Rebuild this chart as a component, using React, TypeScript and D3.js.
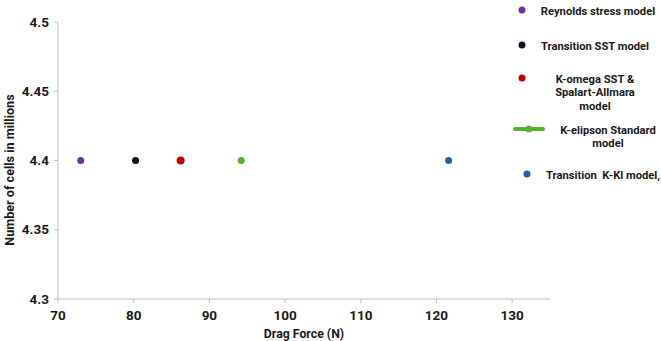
import React from "react";
import * as d3 from "d3";

const seriesNames = [
  "Reynolds stress model",
  "Transition SST model",
  "K-omega SST & Spalart-Allmara model",
  "K-elipson Standard model",
  "Transition  K-Kl model,",
];
const dragForce = [73.0, 80.25, 86.2, 94.2, 121.6];
const cells = [4.4, 4.4, 4.4, 4.4, 4.4];
const colors = ["#7030a0", "#0a1626", "#c00000", "#55b030", "#1f64a0"];
const xTicks = [70, 80, 90, 100, 110, 120, 130];
const yTicks = [4.3, 4.35, 4.4, 4.45, 4.5];

const W = 661;
const H = 341;
const FONT = "Roboto, 'DejaVu Sans', sans-serif";

export default function App() {
  const x = d3.scaleLinear().domain([70, 135]).range([58, 550]);
  const y = d3.scaleLinear().domain([4.3, 4.5]).range([299, 22]);
  const axisColor = "#bfbfbf";
  const textColor = "#1a1a1a";

  const legendLines: string[][] = [
    ["Reynolds stress model"],
    ["Transition SST model"],
    ["K-omega SST &", "Spalart-Allmara", "model"],
    ["K-elipson Standard", "model"],
    ["Transition  K-Kl model,"],
  ];
  const legendMarkerX = [522, 522, 522, 529, 527];
  const legendMarkerY = [10, 45, 78, 129, 174];
  const legendTextX = [598, 595, 595, 608, 546];
  const legendAnchor = ["middle", "middle", "middle", "middle", "start"];

  return (
    <svg
      width={W}
      height={H}
      style={{ position: "absolute", left: 0, top: 0, background: "#fff" }}
      fontFamily={FONT}
    >
      {/* axes */}
      <line x1={x(70)} x2={x(70)} y1={y(4.5)} y2={y(4.3)} stroke={axisColor} strokeWidth={1} />
      <line x1={x(70)} x2={x(135)} y1={y(4.3)} y2={y(4.3)} stroke={axisColor} strokeWidth={1} />
      {yTicks.map((t) => (
        <g key={"y" + t}>
          <line x1={x(70) - 4} x2={x(70)} y1={y(t)} y2={y(t)} stroke={axisColor} />
          <text
            x={x(70) - 9}
            y={y(t)}
            dy="0.35em"
            textAnchor="end"
            fontSize={13.5}
            fontWeight="bold"
            fill={textColor}
          >
            {t}
          </text>
        </g>
      ))}
      {xTicks.map((t) => (
        <g key={"x" + t}>
          <line x1={x(t)} x2={x(t)} y1={y(4.3)} y2={y(4.3) + 4} stroke={axisColor} />
          <text
            x={x(t)}
            y={315}
            dy="0.35em"
            textAnchor="middle"
            fontSize={13.5}
            fontWeight="bold"
            fill={textColor}
          >
            {t}
          </text>
        </g>
      ))}
      <text x={304} y={334} dy="0.35em" textAnchor="middle" fontSize={12.3} fontWeight="bold" fill={textColor}>
        Drag Force (N)
      </text>
      <text
        transform={`translate(10,170) rotate(-90)`}
        dy="0.35em"
        textAnchor="middle"
        fontSize={12.6}
        fontWeight="bold"
        fill={textColor}
      >
        Number of cells in millions
      </text>

      {/* points */}
      {dragForce.map((v, i) => (
        <circle key={"p" + i} cx={x(v)} cy={y(cells[i])} r={i === 2 ? 4 : 3.5} fill={colors[i]} />
      ))}

      {/* legend */}
      {seriesNames.map((name, i) => (
        <g key={"l" + name}>
          {i === 3 ? (
            <>
              <line
                x1={legendMarkerX[i] - 14}
                x2={legendMarkerX[i] + 14}
                y1={legendMarkerY[i]}
                y2={legendMarkerY[i]}
                stroke={colors[i]}
                strokeWidth={4}
                strokeLinecap="round"
              />
              <circle cx={legendMarkerX[i]} cy={legendMarkerY[i]} r={3.5} fill={colors[i]} />
            </>
          ) : (
            <circle cx={legendMarkerX[i]} cy={legendMarkerY[i]} r={3.5} fill={colors[i]} />
          )}
          {legendLines[i].map((ln, j) => (
            <text
              key={j}
              x={legendTextX[i]}
              y={legendMarkerY[i] + 1 + j * 13.3}
              dy="0.35em"
              textAnchor={legendAnchor[i] as any}
              fontSize={11.2}
              fontWeight="bold"
              fill={textColor}
              style={{ whiteSpace: "pre" }}
            >
              {ln}
            </text>
          ))}
        </g>
      ))}
    </svg>
  );
}
